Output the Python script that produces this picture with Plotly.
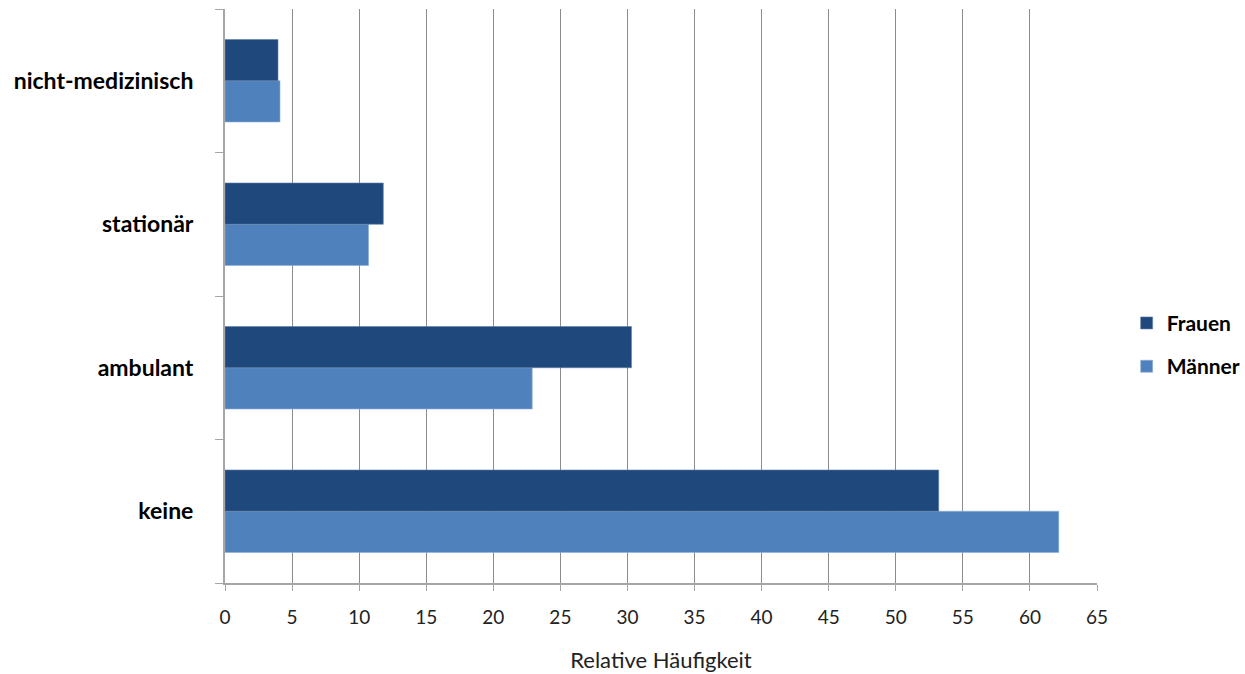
import plotly.graph_objects as go

categories = ["keine", "ambulant", "stationär", "nicht-medizinisch"]
frauen = [53.2, 30.3, 11.8, 3.95]
maenner = [62.15, 22.9, 10.7, 4.1]
x_ticks = list(range(0, 70, 5))

fig = go.Figure()
fig.add_trace(go.Bar(y=categories, x=maenner, name="Männer", orientation="h",
                     legendrank=2, legendgroup="b",
                     marker=dict(color="#4F81BD", line=dict(color="#8FAEDB", width=0.6))))
fig.add_trace(go.Bar(y=categories, x=frauen, name="Frauen", orientation="h",
                     legendrank=1, legendgroup="a",
                     marker=dict(color="#1F497D", line=dict(color="#5F7FA8", width=0.6))))

fig.update_layout(
    width=1245, height=674,
    margin=dict(l=225, r=148, t=9, b=91, autoexpand=False),
    paper_bgcolor="white", plot_bgcolor="white",
    barmode="group", bargap=0.425, bargroupgap=0,
    font=dict(family="Lato, Carlito, Calibri, sans-serif", color="#000"),
    legend=dict(x=1.034, y=0.415, xanchor="left", yanchor="middle",
                traceorder="grouped", tracegroupgap=13,
                font=dict(size=21, color="#000", weight="bold"),
                itemwidth=30),
    showlegend=True,
)
fig.update_xaxes(
    range=[0, 65], tickvals=x_ticks, ticktext=[str(v) for v in x_ticks],
    showgrid=True, gridcolor="#8C8C8C", gridwidth=1,
    showline=True, linecolor="#A6A6A6", linewidth=2,
    ticks="outside", ticklen=6, tickcolor="#A6A6A6", tickwidth=1,
    tickfont=dict(size=19, color="#222"), ticklabelstandoff=10,
    zeroline=False,
    title=dict(text="Relative Häufigkeit", font=dict(size=22, color="#222"), standoff=26),
)
fig.update_yaxes(
    categoryorder="array", categoryarray=categories,
    showline=True, linecolor="#A6A6A6", linewidth=2,
    ticks="outside", ticklen=8, tickcolor="#A6A6A6", tickson="boundaries",
    tickfont=dict(size=23, color="#000", weight="bold"), ticklabelstandoff=25,
    showgrid=False, zeroline=False,
)

fig.write_html("out.html")
